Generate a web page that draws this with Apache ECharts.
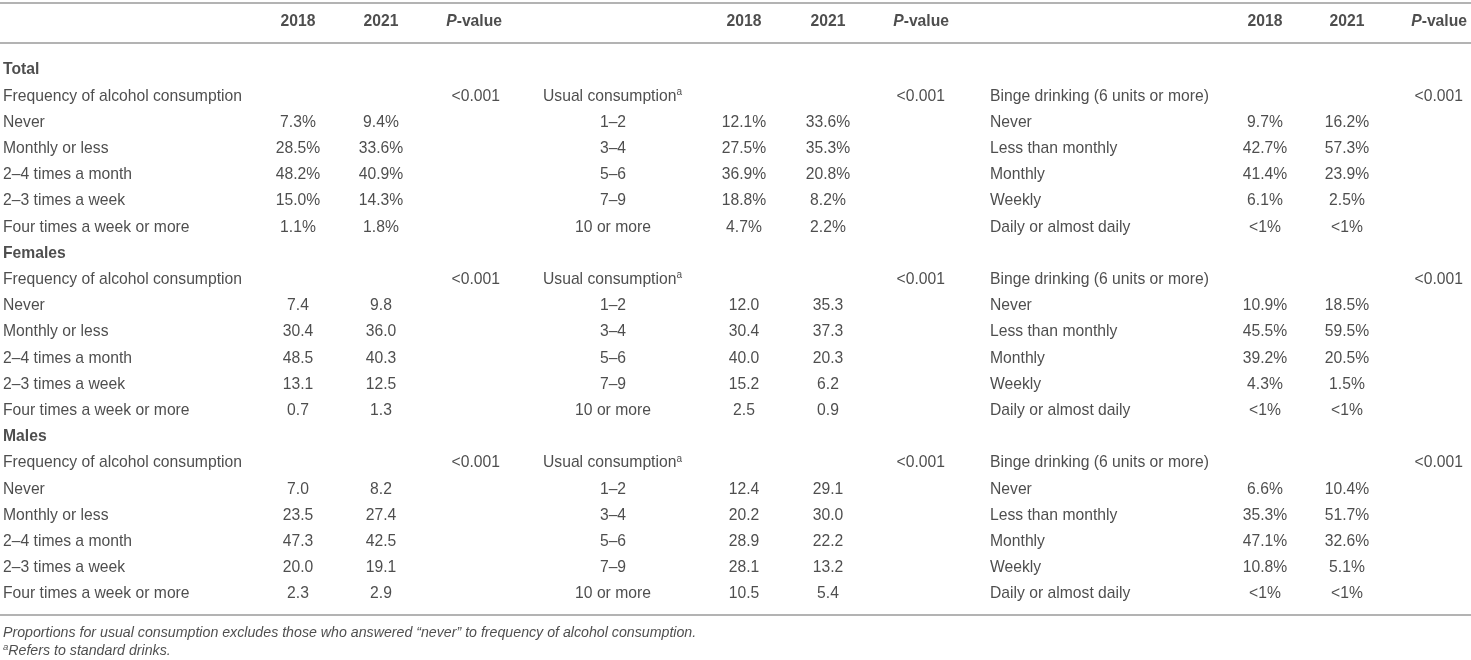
<!DOCTYPE html>
<html>
<head>
<meta charset="utf-8">
<title>Alcohol consumption 2018 vs 2021</title>
<script src="https://cdn.jsdelivr.net/npm/echarts@6/dist/echarts.min.js"></script>
<style>
  html, body { margin: 0; padding: 0; background: #fff; }
  #table-chart { width: 1471px; height: 660px; }
</style>
</head>
<body>
<div id="table-chart"></div>
<script>
// table content
var years = ['2018', '2021'];
var sections = ['Total', 'Females', 'Males'];
var groupTitles = ['Frequency of alcohol consumption', 'Usual consumption', 'Binge drinking (6 units or more)'];
var freqLabels = ['Never', 'Monthly or less', '2\u20134 times a month', '2\u20133 times a week', 'Four times a week or more'];
var usualLabels = ['1\u20132', '3\u20134', '5\u20136', '7\u20139', '10 or more'];
var bingeLabels = ['Never', 'Less than monthly', 'Monthly', 'Weekly', 'Daily or almost daily'];

// one row per section: Total, Females, Males
var freq2018 = [[7.3, 28.5, 48.2, 15.0, 1.1], [7.4, 30.4, 48.5, 13.1, 0.7], [7.0, 23.5, 47.3, 20.0, 2.3]];
var freq2021 = [[9.4, 33.6, 40.9, 14.3, 1.8], [9.8, 36.0, 40.3, 12.5, 1.3], [8.2, 27.4, 42.5, 19.1, 2.9]];
var usual2018 = [[12.1, 27.5, 36.9, 18.8, 4.7], [12.0, 30.4, 40.0, 15.2, 2.5], [12.4, 20.2, 28.9, 28.1, 10.5]];
var usual2021 = [[33.6, 35.3, 20.8, 8.2, 2.2], [35.3, 37.3, 20.3, 6.2, 0.9], [29.1, 30.0, 22.2, 13.2, 5.4]];
var binge2018 = [[9.7, 42.7, 41.4, 6.1, '<1'], [10.9, 45.5, 39.2, 4.3, '<1'], [6.6, 35.3, 47.1, 10.8, '<1']];
var binge2021 = [[16.2, 57.3, 23.9, 2.5, '<1'], [18.5, 59.5, 20.5, 1.5, '<1'], [10.4, 51.7, 32.6, 5.1, '<1']];
var pValues = [['<0.001', '<0.001', '<0.001'], ['<0.001', '<0.001', '<0.001'], ['<0.001', '<0.001', '<0.001']];

var footnotes = [
  'Proportions for usual consumption excludes those who answered \u201cnever\u201d to frequency of alcohol consumption.',
  'Refers to standard drinks.'
];

// layout (axis units = pixels)
var FONT = 'Liberation Sans, Arial, Helvetica, sans-serif';
var FS = 15.7;
var TXT = '#222';
var panels = [
  { title: 3, label: 3, labelAlign: 'left', y1: 298, y2: 381, p: 500, ph: 502 },
  { title: 543, label: 613, labelAlign: 'center', y1: 744, y2: 828, p: 945, ph: 949 },
  { title: 990, label: 990, labelAlign: 'left', y1: 1265, y2: 1347, p: 1463, ph: 1467 }
];
var headerY = 22;
var firstRowY = 70;
var rowH = 26.2;
var footY = [633, 651];
var rules = [3, 43, 615];

function fmt(v, pct) {
  var s = typeof v === 'number' ? v.toFixed(1) : v;
  return pct ? s + '%' : s;
}

function cell(x, y, text, align, extra) {
  var lab = {
    show: true, position: 'inside', formatter: text, align: align, verticalAlign: 'middle',
    fontFamily: FONT, fontSize: FS, color: TXT
  };
  for (var k in extra) lab[k] = extra[k];
  return { value: [x, y], label: lab };
}

var cells = [];
var rowY = function (i) { return firstRowY + i * rowH; };

// header row
panels.forEach(function (p) {
  cells.push(cell(p.y1, headerY, years[0], 'center', { fontWeight: 'bold' }));
  cells.push(cell(p.y2, headerY, years[1], 'center', { fontWeight: 'bold' }));
  cells.push(cell(p.ph, headerY, '{i|P}{b|-value}', 'right', {
    rich: {
      i: { fontFamily: FONT, fontSize: FS, color: TXT, fontWeight: 'bold', fontStyle: 'italic' },
      b: { fontFamily: FONT, fontSize: FS, color: TXT, fontWeight: 'bold' }
    }
  }));
});

var blockLabels = [freqLabels, usualLabels, bingeLabels];
var block2018 = [freq2018, usual2018, binge2018];
var block2021 = [freq2021, usual2021, binge2021];

sections.forEach(function (name, s) {
  var r0 = s * 7;
  cells.push(cell(3, rowY(r0), name, 'left', { fontWeight: 'bold' }));
  panels.forEach(function (p, b) {
    var title = groupTitles[b];
    if (b === 1) {
      cells.push(cell(p.title, rowY(r0 + 1), '{t|' + title + '}{s|a}', 'left', {
        rich: {
          t: { fontFamily: FONT, fontSize: FS, color: TXT, lineHeight: 18 },
          s: { fontFamily: FONT, fontSize: 10, color: TXT, verticalAlign: 'top', lineHeight: 10 }
        }
      }));
    } else {
      cells.push(cell(p.title, rowY(r0 + 1), title, 'left'));
    }
    cells.push(cell(p.p, rowY(r0 + 1), pValues[s][b], 'right'));
    var pct = s === 0 || b === 2;
    blockLabels[b].forEach(function (lbl, j) {
      var y = rowY(r0 + 2 + j);
      cells.push(cell(p.label, y, lbl, p.labelAlign));
      cells.push(cell(p.y1, y, fmt(block2018[b][s][j], pct), 'center'));
      cells.push(cell(p.y2, y, fmt(block2021[b][s][j], pct), 'center'));
    });
  });
});

// footnotes
cells.push(cell(3, footY[0], footnotes[0], 'left', { fontStyle: 'italic', fontSize: 14.2 }));
cells.push(cell(3, footY[1], '{s|a}{t|' + footnotes[1] + '}', 'left', {
  rich: {
    s: { fontFamily: FONT, fontSize: 9.5, color: TXT, fontStyle: 'italic', verticalAlign: 'top', lineHeight: 10 },
    t: { fontFamily: FONT, fontSize: 14.2, color: TXT, fontStyle: 'italic', lineHeight: 17 }
  }
}));

var chart = echarts.init(document.getElementById('table-chart'));
chart.setOption({
  animation: false,
  backgroundColor: '#fff',
  grid: { left: 0, right: 0, top: 0, bottom: 0 },
  xAxis: { type: 'value', min: 0, max: 1471, show: false },
  yAxis: { type: 'value', min: 0, max: 660, inverse: true, show: false },
  series: [{
    type: 'scatter',
    silent: true,
    symbolSize: 0,
    data: cells,
    markLine: {
      silent: true,
      symbol: 'none',
      label: { show: false },
      lineStyle: { color: '#b3b3b3', width: 2, type: 'solid' },
      data: rules.map(function (y) { return { yAxis: y }; })
    }
  }]
});
</script>
</body>
</html>
